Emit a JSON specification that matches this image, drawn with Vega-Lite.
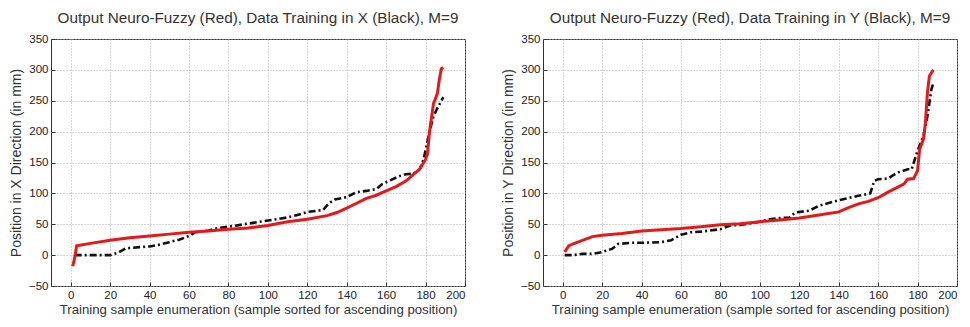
{
  "$schema": "https://vega.github.io/schema/vega-lite/v6.json",
  "background": "white",
  "padding": {"left": 8, "top": 10, "right": 4, "bottom": 2},
  "spacing": 34,
  "config": {
    "font": "Liberation Sans",
    "view": {"stroke": "#333", "strokeWidth": 1},
    "title": {"fontSize": 15.3, "fontWeight": "normal", "color": "#333", "offset": 7},
    "axis": {
      "labelFont": "Liberation Sans", "labelFontSize": 11.5, "labelColor": "#222",
      "titleFont": "Liberation Sans", "titleFontSize": 14, "titleFontWeight": "normal", "titleColor": "#333",
      "grid": true, "gridColor": "#aaa", "gridDash": [1, 2], "gridWidth": 1,
      "domain": false, "tickColor": "#333", "tickSize": -4, "labelPadding": 7
    },
    "axisX": {"titleFontSize": 13.2}
  },
  "datasets": {
    "xdata": [
      {"n": 1, "v": -18, "s": "red"}, {"n": 2, "v": -5, "s": "red"}, {"n": 3, "v": 15, "s": "red"}, {"n": 10, "v": 19, "s": "red"},
      {"n": 20, "v": 24, "s": "red"}, {"n": 30, "v": 28, "s": "red"}, {"n": 40, "v": 31, "s": "red"}, {"n": 50, "v": 34, "s": "red"},
      {"n": 60, "v": 37, "s": "red"}, {"n": 70, "v": 39, "s": "red"}, {"n": 80, "v": 42, "s": "red"}, {"n": 90, "v": 44, "s": "red"},
      {"n": 100, "v": 48, "s": "red"}, {"n": 110, "v": 54, "s": "red"}, {"n": 120, "v": 58, "s": "red"}, {"n": 130, "v": 64, "s": "red"},
      {"n": 135, "v": 69, "s": "red"}, {"n": 140, "v": 76, "s": "red"}, {"n": 145, "v": 84, "s": "red"}, {"n": 150, "v": 92, "s": "red"},
      {"n": 155, "v": 97, "s": "red"}, {"n": 160, "v": 104, "s": "red"}, {"n": 165, "v": 111, "s": "red"}, {"n": 170, "v": 120, "s": "red"},
      {"n": 174, "v": 131, "s": "red"}, {"n": 177, "v": 139, "s": "red"}, {"n": 180, "v": 155, "s": "red"}, {"n": 181, "v": 164, "s": "red"},
      {"n": 182, "v": 200, "s": "red"}, {"n": 184, "v": 245, "s": "red"}, {"n": 186, "v": 262, "s": "red"}, {"n": 187, "v": 285, "s": "red"},
      {"n": 188, "v": 302, "s": "red"}, {"n": 189, "v": 304, "s": "red"},
      {"n": 2, "v": 0, "s": "black"}, {"n": 10, "v": 0, "s": "black"}, {"n": 20, "v": 0, "s": "black"}, {"n": 24, "v": 4, "s": "black"},
      {"n": 28, "v": 11, "s": "black"}, {"n": 35, "v": 13, "s": "black"}, {"n": 40, "v": 14, "s": "black"}, {"n": 45, "v": 17, "s": "black"},
      {"n": 50, "v": 21, "s": "black"}, {"n": 55, "v": 25, "s": "black"}, {"n": 60, "v": 31, "s": "black"}, {"n": 63, "v": 37, "s": "black"},
      {"n": 70, "v": 40, "s": "black"}, {"n": 75, "v": 44, "s": "black"}, {"n": 80, "v": 46, "s": "black"}, {"n": 90, "v": 51, "s": "black"},
      {"n": 100, "v": 56, "s": "black"}, {"n": 110, "v": 61, "s": "black"}, {"n": 115, "v": 65, "s": "black"}, {"n": 120, "v": 70, "s": "black"},
      {"n": 128, "v": 73, "s": "black"}, {"n": 131, "v": 84, "s": "black"}, {"n": 134, "v": 90, "s": "black"}, {"n": 140, "v": 94, "s": "black"},
      {"n": 145, "v": 102, "s": "black"}, {"n": 150, "v": 104, "s": "black"}, {"n": 155, "v": 107, "s": "black"}, {"n": 158, "v": 115, "s": "black"},
      {"n": 162, "v": 121, "s": "black"}, {"n": 166, "v": 127, "s": "black"}, {"n": 170, "v": 131, "s": "black"}, {"n": 174, "v": 132, "s": "black"},
      {"n": 177, "v": 139, "s": "black"}, {"n": 179, "v": 155, "s": "black"}, {"n": 180, "v": 170, "s": "black"}, {"n": 182, "v": 200, "s": "black"},
      {"n": 184, "v": 225, "s": "black"}, {"n": 186, "v": 238, "s": "black"}, {"n": 188, "v": 250, "s": "black"}, {"n": 189, "v": 256, "s": "black"}
    ],
    "ydata": [
      {"n": 1, "v": 5, "s": "red"}, {"n": 3, "v": 15, "s": "red"}, {"n": 5, "v": 18, "s": "red"}, {"n": 10, "v": 24, "s": "red"},
      {"n": 15, "v": 30, "s": "red"}, {"n": 20, "v": 32, "s": "red"}, {"n": 30, "v": 35, "s": "red"}, {"n": 40, "v": 39, "s": "red"},
      {"n": 50, "v": 41, "s": "red"}, {"n": 60, "v": 43, "s": "red"}, {"n": 70, "v": 46, "s": "red"}, {"n": 80, "v": 49, "s": "red"},
      {"n": 90, "v": 51, "s": "red"}, {"n": 100, "v": 54, "s": "red"}, {"n": 110, "v": 57, "s": "red"}, {"n": 120, "v": 60, "s": "red"},
      {"n": 130, "v": 65, "s": "red"}, {"n": 140, "v": 70, "s": "red"}, {"n": 145, "v": 77, "s": "red"}, {"n": 150, "v": 83, "s": "red"},
      {"n": 155, "v": 87, "s": "red"}, {"n": 160, "v": 93, "s": "red"}, {"n": 165, "v": 102, "s": "red"}, {"n": 170, "v": 110, "s": "red"},
      {"n": 173, "v": 115, "s": "red"}, {"n": 175, "v": 123, "s": "red"}, {"n": 178, "v": 124, "s": "red"}, {"n": 180, "v": 137, "s": "red"},
      {"n": 181, "v": 171, "s": "red"}, {"n": 183, "v": 188, "s": "red"}, {"n": 184, "v": 215, "s": "red"}, {"n": 185, "v": 263, "s": "red"},
      {"n": 186, "v": 290, "s": "red"}, {"n": 188, "v": 300, "s": "red"},
      {"n": 1, "v": 0, "s": "black"}, {"n": 5, "v": 0, "s": "black"}, {"n": 10, "v": 2, "s": "black"}, {"n": 15, "v": 2, "s": "black"},
      {"n": 20, "v": 5, "s": "black"}, {"n": 25, "v": 10, "s": "black"}, {"n": 28, "v": 18, "s": "black"}, {"n": 35, "v": 20, "s": "black"},
      {"n": 40, "v": 20, "s": "black"}, {"n": 50, "v": 21, "s": "black"}, {"n": 55, "v": 24, "s": "black"}, {"n": 60, "v": 33, "s": "black"},
      {"n": 65, "v": 37, "s": "black"}, {"n": 70, "v": 38, "s": "black"}, {"n": 80, "v": 42, "s": "black"}, {"n": 85, "v": 48, "s": "black"},
      {"n": 90, "v": 49, "s": "black"}, {"n": 100, "v": 54, "s": "black"}, {"n": 105, "v": 58, "s": "black"}, {"n": 110, "v": 60, "s": "black"},
      {"n": 115, "v": 61, "s": "black"}, {"n": 118, "v": 69, "s": "black"}, {"n": 125, "v": 72, "s": "black"}, {"n": 130, "v": 80, "s": "black"},
      {"n": 140, "v": 89, "s": "black"}, {"n": 150, "v": 96, "s": "black"}, {"n": 156, "v": 100, "s": "black"}, {"n": 158, "v": 120, "s": "black"},
      {"n": 160, "v": 123, "s": "black"}, {"n": 165, "v": 124, "s": "black"}, {"n": 170, "v": 134, "s": "black"}, {"n": 175, "v": 139, "s": "black"},
      {"n": 177, "v": 139, "s": "black"}, {"n": 180, "v": 169, "s": "black"}, {"n": 183, "v": 193, "s": "black"}, {"n": 185, "v": 225, "s": "black"},
      {"n": 187, "v": 268, "s": "black"}, {"n": 188, "v": 279, "s": "black"}
    ]
  },
  "hconcat": [
    {
      "title": "Output Neuro-Fuzzy (Red), Data Training in X (Black), M=9",
      "width": 414, "height": 247,
      "data": {"name": "xdata"},
      "encoding": {
        "x": {"field": "n", "type": "quantitative", "scale": {"domain": [-10, 200], "nice": false, "zero": false},
              "axis": {"values": [0, 20, 40, 60, 80, 100, 120, 140, 160, 180, 200], "title": "Training sample enumeration (sample sorted for ascending position)", "titlePadding": 3}},
        "y": {"field": "v", "type": "quantitative", "scale": {"domain": [-50, 350], "nice": false},
              "axis": {"values": [-50, 0, 50, 100, 150, 200, 250, 300, 350], "title": "Position in X Direction (in mm)", "titlePadding": 5}}
      },
      "layer": [
        {"transform": [{"filter": "datum.s === 'black'"}], "mark": {"type": "line", "color": "#111", "strokeWidth": 2.6, "strokeDash": [7, 3, 2, 3]}},
        {"transform": [{"filter": "datum.s === 'red'"}], "mark": {"type": "line", "color": "#e3191b", "strokeWidth": 3}}
      ]
    },
    {
      "title": "Output Neuro-Fuzzy (Red), Data Training in Y (Black), M=9",
      "width": 414, "height": 247,
      "data": {"name": "ydata"},
      "encoding": {
        "x": {"field": "n", "type": "quantitative", "scale": {"domain": [-10, 200], "nice": false, "zero": false},
              "axis": {"values": [0, 20, 40, 60, 80, 100, 120, 140, 160, 180, 200], "title": "Training sample enumeration (sample sorted for ascending position)", "titlePadding": 3}},
        "y": {"field": "v", "type": "quantitative", "scale": {"domain": [-50, 350], "nice": false},
              "axis": {"values": [-50, 0, 50, 100, 150, 200, 250, 300, 350], "title": "Position in Y Direction (in mm)", "titlePadding": 5}}
      },
      "layer": [
        {"transform": [{"filter": "datum.s === 'black'"}], "mark": {"type": "line", "color": "#111", "strokeWidth": 2.6, "strokeDash": [7, 3, 2, 3]}},
        {"transform": [{"filter": "datum.s === 'red'"}], "mark": {"type": "line", "color": "#e3191b", "strokeWidth": 3}}
      ]
    }
  ]
}
